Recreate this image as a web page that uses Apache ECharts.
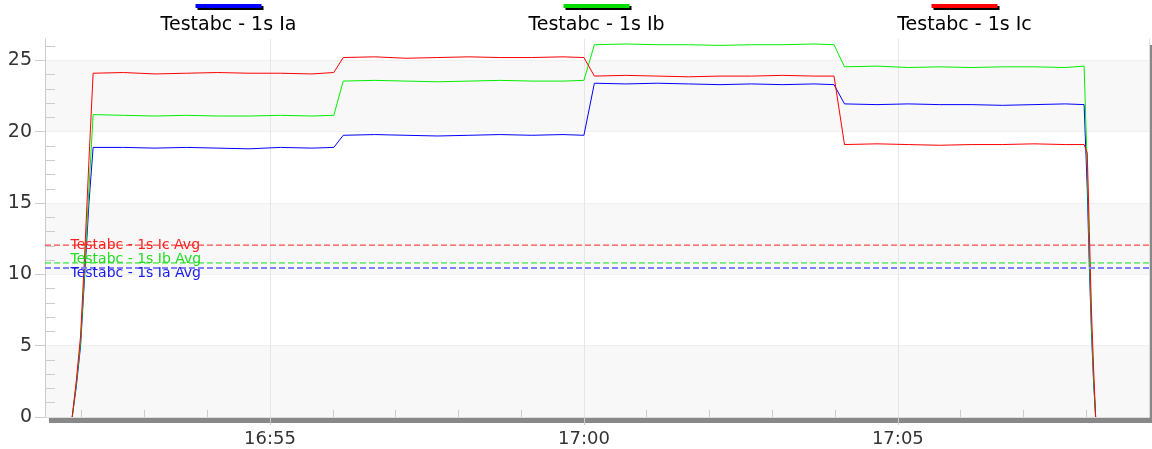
<!DOCTYPE html>
<html>
<head>
<meta charset="utf-8">
<title>Testabc currents</title>
<script src="https://cdn.jsdelivr.net/npm/echarts@6/dist/echarts.min.js"></script>
<style>
  html, body { margin: 0; padding: 0; background: #fff; }
  #chart { width: 1152px; height: 449px; }
</style>
</head>
<body>
<div id="chart"></div>
<script>
const seriesNames = ['Testabc - 1s Ia', 'Testabc - 1s Ib', 'Testabc - 1s Ic'];
const avgNames = ['Testabc - 1s Ia Avg', 'Testabc - 1s Ib Avg', 'Testabc - 1s Ic Avg'];
const avgValues = [10.45, 10.8, 12.05];

const times = [
  '16:51:51', '16:51:55', '16:51:59', '16:52:03', '16:52:07', '16:52:11',
  '16:52:40', '16:53:10', '16:53:40', '16:54:10', '16:54:40', '16:55:10', '16:55:40', '16:56:01',
  '16:56:10', '16:56:40', '16:57:10', '16:57:40', '16:58:10', '16:58:40', '16:59:10', '16:59:40', '17:00:00',
  '17:00:10', '17:00:40', '17:01:10', '17:01:40', '17:02:10', '17:02:40', '17:03:10', '17:03:40', '17:03:59',
  '17:04:09', '17:04:40', '17:05:10', '17:05:40', '17:06:10', '17:06:40', '17:07:10', '17:07:40', '17:07:58',
  '17:08:01', '17:08:03', '17:08:05', '17:08:07', '17:08:09'
];

const iaValues = [
  0, 2.2, 5.0, 10.0, 15.0, 18.9,
  18.9, 18.85, 18.9, 18.85, 18.8, 18.9, 18.85, 18.9,
  19.75, 19.8, 19.75, 19.7, 19.75, 19.8, 19.75, 19.8, 19.75,
  23.4, 23.35, 23.4, 23.35, 23.3, 23.35, 23.3, 23.35, 23.3,
  21.95, 21.9, 21.95, 21.9, 21.9, 21.85, 21.9, 21.95, 21.9,
  16.0, 10.5, 6.0, 2.5, 0
];
const ibValues = [
  0, 2.4, 5.3, 10.5, 16.0, 21.2,
  21.15, 21.1, 21.15, 21.1, 21.1, 21.15, 21.1, 21.15,
  23.55, 23.6, 23.55, 23.5, 23.55, 23.6, 23.55, 23.55, 23.6,
  26.1, 26.15, 26.1, 26.1, 26.05, 26.1, 26.1, 26.15, 26.1,
  24.55, 24.6, 24.5, 24.55, 24.5, 24.55, 24.55, 24.5, 24.6,
  17.5, 11.5, 6.5, 2.8, 0
];
const icValues = [
  0, 2.6, 5.7, 11.5, 18.0, 24.1,
  24.15, 24.05, 24.1, 24.15, 24.1, 24.1, 24.05, 24.15,
  25.2, 25.25, 25.15, 25.2, 25.25, 25.2, 25.2, 25.25, 25.2,
  23.9, 23.95, 23.9, 23.85, 23.9, 23.9, 23.95, 23.9, 23.9,
  19.1, 19.15, 19.1, 19.05, 19.1, 19.1, 19.15, 19.1, 19.1,
  18.5, 13.0, 7.5, 3.5, 0
];

const xStart = '16:51:25';
const xEnd = '17:09:00';
const xTickLabels = ['16:55', '17:00', '17:05'];
const yTicks = [0, 5, 10, 15, 20, 25];

const lineColors = ['#0000ff', '#00ee00', '#ff0000'];
const legendColors = ['#0000ff', '#00dd00', '#ff0000'];
const avgColors = ['#8080ff', '#11e011', '#ff2020'];
const avgTextColors = ['#1a1aee', '#22dd22', '#ff2020'];

const toSec = (t) => {
  const p = t.split(':').map(Number);
  return p[0] * 3600 + p[1] * 60 + (p[2] || 0);
};
const pad = (n) => (n < 10 ? '0' : '') + n;
const fmt = (s) => pad(Math.floor(s / 3600)) + ':' + pad(Math.floor((s % 3600) / 60));

const xMin = toSec(xStart);
const xMax = toSec(xEnd);
const xMajor = xTickLabels.map(toSec);
const xMinor = [];
for (let s = Math.ceil(xMin / 60) * 60; s < xMax; s += 60) {
  if (xMajor.indexOf(s) < 0) xMinor.push(s);
}
const yMinor = [];
for (let v = 1; v < 26.5; v++) {
  if (v % 5 !== 0) yMinor.push(v);
}

const valueSets = [iaValues, ibValues, icValues];
// label nudges so the three avg captions don't sit on each other
const avgLabelOffset = [[20, 5], [20, -4], [20, 0]];

const rich = {
  name: { width: 363, align: 'center', fontSize: 19, lineHeight: 27, color: '#000', fontFamily: 'DejaVu Sans' }
};
legendColors.forEach((c, i) => {
  rich['bar' + i] = {
    width: 66, height: 4, lineHeight: 12, align: 'center',
    backgroundColor: c, shadowColor: '#000', shadowOffsetX: 2, shadowOffsetY: 2
  };
});

// plain axis used only to draw the frame edge
const frameAxis = (pos, idx) => ({
  type: 'value',
  position: pos,
  min: idx === 'x' ? xMin : 0,
  max: idx === 'x' ? xMax : 26.5,
  axisLine: { show: true, lineStyle: { color: '#dddddd' } },
  axisTick: { show: false },
  axisLabel: { show: false },
  splitLine: { show: false }
});

const dataSeries = seriesNames.map((name, i) => ({
  name: name,
  type: 'line',
  showSymbol: false,
  symbol: 'none',
  z: 3,
  color: lineColors[i],
  lineStyle: { width: 1, color: lineColors[i] },
  data: times.map((t, k) => [toSec(t), valueSets[i][k]])
}));

const avgSeries = avgNames.map((name, i) => ({
  name: name,
  type: 'line',
  symbol: 'circle',
  symbolSize: 1,
  showSymbol: true,
  silent: true,
  z: 4,
  color: avgColors[i],
  itemStyle: { color: 'transparent' },
  lineStyle: { type: [6, 3], width: i === 0 ? 2 : 1, color: avgColors[i] },
  label: { show: false },
  data: [
    {
      value: [xMin, avgValues[i]],
      label: {
        show: true,
        position: 'right',
        distance: 5,
        offset: avgLabelOffset[i],
        formatter: name,
        fontSize: 14,
        color: avgTextColors[i]
      }
    },
    [xMax, avgValues[i]]
  ]
}));

const chart = echarts.init(document.getElementById('chart'));
chart.setOption({
  animation: false,
  textStyle: { fontFamily: 'DejaVu Sans' },
  legend: {
    data: seriesNames,
    left: 42,
    top: 0,
    padding: 0,
    itemGap: 0,
    itemWidth: 0,
    itemHeight: 0,
    icon: 'none',
    selectedMode: false,
    formatter: (name) => '{bar' + seriesNames.indexOf(name) + '|}\n{name|' + name + '}',
    textStyle: { rich: rich }
  },
  grid: {
    left: 45,
    right: 3,
    top: 39,
    bottom: 32,
    show: true,
    backgroundColor: '#fff',
    borderWidth: 0,
    shadowColor: '#888',
    shadowBlur: 0,
    shadowOffsetX: 4,
    shadowOffsetY: 6
  },
  xAxis: [
    {
      type: 'value',
      min: xMin,
      max: xMax,
      axisLine: { show: false },
      axisTick: { show: true, customValues: xMajor, length: 8, lineStyle: { color: '#ccc' } },
      axisLabel: { customValues: xMajor, formatter: (v) => fmt(v), fontSize: 18, color: '#333', margin: 13 },
      splitLine: { show: true, lineStyle: { color: '#e6e6e6' } }
    },
    {
      type: 'value',
      position: 'bottom',
      min: xMin,
      max: xMax,
      axisLine: { show: false },
      axisLabel: { show: false },
      splitLine: { show: false },
      axisTick: { show: true, customValues: xMinor, inside: true, length: 7, lineStyle: { color: '#ccc' } }
    },
    frameAxis('top', 'x')
  ],
  yAxis: [
    {
      type: 'value',
      min: 0,
      max: 26.5,
      interval: 5,
      axisLine: { show: true, lineStyle: { color: '#ccc' } },
      axisTick: { show: true, customValues: yTicks, length: 10, lineStyle: { color: '#ccc' } },
      axisLabel: { customValues: yTicks, fontSize: 19, color: '#333', margin: 13 },
      splitLine: { show: true, lineStyle: { color: '#f0f0f0' } },
      splitArea: { show: true, areaStyle: { color: ['#f8f8f8', '#ffffff'] } }
    },
    {
      type: 'value',
      position: 'left',
      min: 0,
      max: 26.5,
      axisLine: { show: false },
      axisLabel: { show: false },
      splitLine: { show: false },
      axisTick: { show: true, customValues: yMinor, inside: true, length: 10, lineStyle: { color: '#ccc' } }
    },
    frameAxis('right', 'y')
  ],
  series: dataSeries.concat(avgSeries)
});
</script>
</body>
</html>
